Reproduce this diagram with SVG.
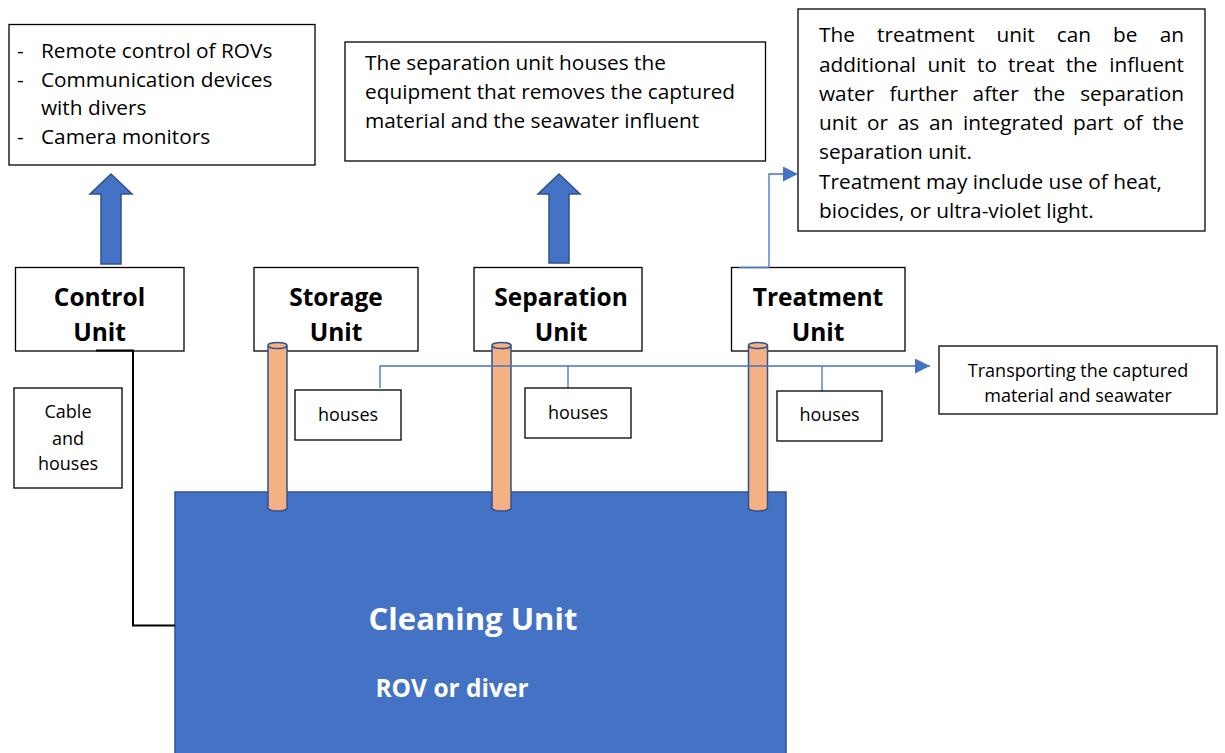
<svg xmlns="http://www.w3.org/2000/svg" width="1225" height="753" viewBox="0 0 1225 753">
<style>
.box{fill:#fff;stroke:#000;stroke-width:1.3}
.t{font-family:"Open Sans","Liberation Sans",sans-serif;font-size:20.8px;fill:#000}
.e{text-anchor:end}
.ts{font-family:"Open Sans","Liberation Sans",sans-serif;font-size:18px;fill:#000}
.b{font-family:"Open Sans","Liberation Sans",sans-serif;font-size:24.5px;font-weight:bold;fill:#000;text-anchor:middle}
.w{font-family:"Open Sans","Liberation Sans",sans-serif;font-weight:bold;fill:#fff;text-anchor:middle}
.blk{fill:#4472C4;stroke:#2F528F;stroke-width:1.5}
.pipe{fill:#F4B183;stroke:#2F528F;stroke-width:1.5}
.bl{fill:none;stroke:#4472C4;stroke-width:1.3}
.mid{text-anchor:middle}
</style>
<defs>
<marker id="ah" viewBox="0 0 10 10" refX="10" refY="5" markerWidth="17" markerHeight="15" markerUnits="userSpaceOnUse" orient="auto">
<path d="M0,0 L10,5 L0,10 Z" fill="#4472C4"/>
</marker>
</defs>

<g id="cleaning-unit">
<rect x="175" y="492" width="611" height="270" fill="#4472C4" stroke="#2F528F" stroke-width="1.5"/>
<text class="w" x="473" y="630" font-size="31">Cleaning Unit</text>
<text class="w" x="452" y="697" font-size="24.5">ROV or diver</text>
</g>

<g id="control-functions">
<rect class="box" x="9" y="24.5" width="306" height="140.5"/>
<text class="t" x="17" y="57.5">-</text><text class="t" x="41" y="57.5">Remote control of ROVs</text>
<text class="t" x="17" y="86.5">-</text><text class="t" x="41" y="86.5">Communication devices</text>
<text class="t" x="41" y="115">with divers</text>
<text class="t" x="17" y="144">-</text><text class="t" x="41" y="144">Camera monitors</text>
</g>

<g id="separation-description">
<rect class="box" x="345" y="42" width="420.5" height="119"/>
<text class="t" x="365" y="69.5">The separation unit houses the</text>
<text class="t" x="365" y="98.5">equipment that removes the captured</text>
<text class="t" x="365" y="127.5">material and the seawater influent</text>
</g>

<g id="treatment-description">
<rect class="box" x="798" y="9" width="407" height="222"/>
<text class="t" x="819" y="42">The</text><text class="t" x="877" y="42">treatment</text><text class="t" x="996.5" y="42">unit</text><text class="t" x="1056.8" y="42">can</text><text class="t" x="1113.1" y="42">be</text><text class="t e" x="1184" y="42">an</text>
<text class="t" x="819" y="71.5">additional</text><text class="t" x="927.6" y="71.5">unit</text><text class="t" x="977.1" y="71.5">to</text><text class="t" x="1008.1" y="71.5">treat</text><text class="t" x="1065.7" y="71.5">the</text><text class="t e" x="1184" y="71.5">influent</text>
<text class="t" x="819" y="100.5">water</text><text class="t" x="889.4" y="100.5">further</text><text class="t" x="972.6" y="100.5">after</text><text class="t" x="1033.4" y="100.5">the</text><text class="t e" x="1184" y="100.5">separation</text>
<text class="t" x="819" y="130">unit</text><text class="t" x="867" y="130">or</text><text class="t" x="897.8" y="130">as</text><text class="t" x="929" y="130">an</text><text class="t" x="963.1" y="130">integrated</text><text class="t" x="1073.1" y="130">part</text><text class="t" x="1122.9" y="130">of</text><text class="t e" x="1184" y="130">the</text>
<text class="t" x="819" y="159">separation unit.</text>
<text class="t" x="819" y="188.5">Treatment may include use of heat,</text>
<text class="t" x="819" y="217.5">biocides, or ultra-violet light.</text>
</g>

<g id="control-unit">
<rect class="box" x="15.5" y="267.5" width="168.5" height="83.5"/>
<text class="b" x="99.5" y="306">Control</text>
<text class="b" x="99.5" y="341">Unit</text>
</g>

<g id="storage-unit">
<rect class="box" x="254" y="267.5" width="164" height="83.5"/>
<text class="b" x="336" y="306">Storage</text>
<text class="b" x="336" y="341">Unit</text>
</g>

<g id="separation-unit">
<rect class="box" x="474" y="267.5" width="168" height="83.5"/>
<text class="b" x="561" y="306">Separation</text>
<text class="b" x="561" y="341">Unit</text>
</g>

<g id="treatment-unit">
<rect class="box" x="731.5" y="267.5" width="173.5" height="83.5"/>
<text class="b" x="818" y="306">Treatment</text>
<text class="b" x="818" y="341">Unit</text>
</g>

<g id="pipe-storage">
<path class="pipe" d="M268,345.5 V508 A9.5,3 0 0 0 287,508 V345.5"/>
<ellipse class="pipe" cx="277.5" cy="345.5" rx="9.5" ry="3"/>
</g>
<g id="pipe-separation">
<path class="pipe" d="M492,345.5 V508 A9.5,3 0 0 0 511,508 V345.5"/>
<ellipse class="pipe" cx="501.5" cy="345.5" rx="9.5" ry="3"/>
</g>
<g id="pipe-treatment">
<path class="pipe" d="M748.5,345.5 V508 A9.5,3 0 0 0 767.5,508 V345.5"/>
<ellipse class="pipe" cx="758" cy="345.5" rx="9.5" ry="3"/>
</g>

<g id="connectors">
<path d="M96,350.5 H133 V625.5 H175" fill="none" stroke="#000" stroke-width="2"/>
<path class="bl" d="M380,388 V366 H930" marker-end="url(#ah)"/>
<path class="bl" d="M568,366 V388"/>
<path class="bl" d="M822,366 V393.5 H827"/>
<path class="bl" d="M739,267.5 H769 V174 H798" marker-end="url(#ah)"/>
<path class="blk" d="M111,174 L132,194 L121,194 L121,264 L101,264 L101,194 L90,194 Z"/>
<path class="blk" d="M559,174 L580,194 L569,194 L569,263 L549,263 L549,194 L538,194 Z"/>
</g>

<g id="cable-houses">
<rect class="box" x="14" y="388" width="108" height="100"/>
<text class="ts mid" x="68" y="417.5">Cable</text>
<text class="ts mid" x="68" y="444.5">and</text>
<text class="ts mid" x="68" y="470">houses</text>
</g>

<g id="houses-storage">
<rect class="box" x="295" y="390" width="106" height="50"/>
<text class="ts mid" x="348" y="420.5">houses</text>
</g>
<g id="houses-separation">
<rect class="box" x="525" y="388" width="106" height="50"/>
<text class="ts mid" x="578" y="418.5">houses</text>
</g>
<g id="houses-treatment">
<rect class="box" x="777" y="391" width="105" height="50"/>
<text class="ts mid" x="829.5" y="421">houses</text>
</g>

<g id="transporting">
<rect class="box" x="939" y="346" width="278" height="68"/>
<text class="ts mid" x="1078" y="376.5" font-size="18.5">Transporting the captured</text>
<text class="ts mid" x="1078" y="401.5" font-size="18.5">material and seawater</text>
</g>
</svg>
